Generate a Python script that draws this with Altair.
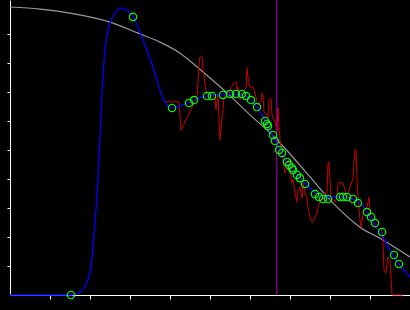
import altair as alt
import pandas as pd

# Gray reference curve
gray_x = [0, 7.5, 15, 25, 32, 37.5, 42.5, 48.25, 54.25, 60, 65, 67.5, 75, 80, 87.5, 93.25, 100]
gray_y = [99.3, 98.6, 97.2, 94.1, 90.3, 87.2, 83.4, 76.9, 69.7, 62.1, 55.9, 52.4, 40.7, 32.8, 23.4, 19.0, 13.1]

# Blue fitted curve
blue_x = [0, 12.5, 15.25, 17.1, 18.3, 19.6, 20.4, 21.1, 21.7, 22.3, 22.9, 23.75, 25, 27.9, 30.75,
          33.25, 35.75, 38.25, 40.5, 44.5, 48.75, 55, 58.25, 61.75, 63.75, 65.75, 67.5, 70, 72.5,
          75, 78.25, 83.25, 87.5, 90, 92.5, 95.75, 97.5, 100]
blue_y = [0, 0, 0, 0.6, 2.3, 5.7, 11.5, 23.0, 33.3, 48.3, 67.2, 84.5, 93.7, 98.9, 95.9,
          87.9, 78.6, 67.8, 64.5, 66.2, 68.6, 69.3, 68.8, 64.8, 60.3, 54.5, 50.0, 44.1, 40.3,
          36.9, 33.8, 33.8, 31.7, 26.9, 21.7, 13.8, 10.3, 6.2]

# Red noisy measurement
red_x = [38.5, 42.25, 42.75, 46.75, 47.25, 47.5, 48, 48.25, 48.75, 49, 49.25, 50.75, 51.25, 51.5,
         51.75, 52, 52.25, 52.5, 52.75, 53, 53.25, 53.5, 54, 54.5, 55, 55.25, 56, 56.5, 56.75, 57,
         57.5, 58, 59, 59.25, 59.5, 60, 60.75, 61.25, 61.75, 62, 62.75, 63, 63.25, 63.5, 64.25,
         64.5, 64.75, 65.25, 65.5, 65.75, 66.25, 66.75, 67, 67.25, 67.5, 67.75, 68, 68.75, 69.25,
         69.5, 70, 70.5, 70.75, 71.25, 71.75, 72, 72.5, 73, 73.25, 73.75, 74.25, 74.5, 75, 75.5,
         75.75, 76.25, 76.75, 77, 77.5, 78, 78.25, 78.75, 79.25, 79.5, 79.75, 80.25, 80.75, 81.25,
         81.75, 82, 82.5, 83.25, 83.75, 84.25, 84.5, 85, 85.75, 86, 86.25, 86.5, 86.75, 87, 87.5,
         87.75, 88, 88.25, 88.75, 89.25, 89.5, 89.75, 90, 90.5, 90.75, 91.25, 92, 93, 93.25, 93.5,
         94, 94.5, 95, 95.25, 95.5, 98.25]
red_y = [66.6, 66.6, 56.9, 68.3, 79.3, 82.1, 82.1, 77.6, 73.1, 69.7, 69.0, 69.0, 67.9, 63.8,
         67.2, 69.7, 60.3, 53.4, 56.9, 61.4, 63.8, 68.3, 69.7, 70.0, 69.7, 71.4, 73.1, 73.4, 70.7, 71.7,
         67.2, 70.0, 71.4, 78.3, 74.8, 71.7, 71.7, 69.7, 66.6, 65.5, 66.6, 69.7, 69.0, 63.1, 62.1,
         61.0, 67.2, 67.9, 62.1, 61.0, 59.7, 56.2, 64.5, 57.9, 54.1, 49.3, 48.3, 42.1, 43.1,
         46.6, 44.1, 38.6, 39.7, 35.2, 32.1, 36.2, 37.2, 33.4, 38.6, 35.2, 33.4, 30.3, 26.9, 25.2,
         25.2, 26.6, 28.3, 30.3, 32.1, 33.4, 32.8, 35.2, 35.2, 45.5, 45.9, 33.8, 32.8, 32.1,
         33.8, 38.6, 39.0, 38.6, 36.2, 33.8, 34.5, 37.2, 40.3, 45.5, 50.0, 50.0, 39.7, 33.8, 25.9,
         23.4, 25.2, 28.3, 29.3, 30.3, 32.1, 33.8, 28.6, 25.9, 25.9, 23.4, 22.4, 22.4, 17.9, 8.6,
         7.6, 13.1, 12.1, 6.2, 0, 0]

# Green sample points
pt_x = [15.25, 30.75, 40.5, 44.75, 46, 49.25, 50.5, 53.25, 55, 56.5, 58, 59, 60.25, 61.75, 63.75,
        64.25, 64.5, 65.75, 66.25, 67.25, 68, 69.25, 69.75, 70.5, 70.75, 71.75, 72.5, 73.75, 76.25,
        77.25, 78.25, 79.5, 82.5, 83.25, 84.25, 85.75, 87, 89.25, 90.25, 91.25, 93, 96, 97.25]
pt_y = [0, 95.9, 64.5, 66.2, 67.2, 68.6, 68.6, 69.0, 69.3, 69.3, 69.3, 68.6, 67.2, 64.8, 60.0,
        59.0, 58.3, 55.2, 53.1, 50.0, 49.0, 45.9, 44.8, 43.8, 43.1, 41.4, 40.3, 38.3, 34.8,
        33.8, 33.1, 33.1, 33.8, 33.8, 33.8, 33.1, 31.7, 28.6, 26.9, 24.8, 21.7, 13.8, 10.7]

marker_x = [66.7]

xs = alt.Scale(domain=[0, 100], nice=False, zero=False)
ys = alt.Scale(domain=[0, 101.72], nice=False, zero=False)
ticks = [10, 20, 30, 40, 50, 60, 70, 80, 90]
xax = alt.Axis(values=ticks, tickCount=20, labels=False, title=None, grid=False, tickSize=4,
               domainColor="white", tickColor="white")
yax = alt.Axis(values=ticks, tickCount=20, labels=False, title=None, grid=False, tickSize=3,
               domainColor="white", tickColor="white")

gray_df = pd.DataFrame({"x": gray_x, "y": gray_y})
blue_df = pd.DataFrame({"x": blue_x, "y": blue_y})
red_df = pd.DataFrame({"x": red_x, "y": red_y})
pt_df = pd.DataFrame({"x": pt_x, "y": pt_y})
mk_df = pd.DataFrame({"x": marker_x})

gray = alt.Chart(gray_df).mark_line(color="#999999", strokeWidth=1.2, interpolate="monotone").encode(
    x=alt.X("x:Q", scale=xs, axis=xax), y=alt.Y("y:Q", scale=ys, axis=yax))
red = alt.Chart(red_df).mark_line(color="#c80000", strokeWidth=1).encode(
    x=alt.X("x:Q", scale=xs), y=alt.Y("y:Q", scale=ys))
purple = alt.Chart(mk_df).mark_rule(color="#990099", strokeWidth=1.2).encode(
    x=alt.X("x:Q", scale=xs))
blue = alt.Chart(blue_df).mark_line(color="#0000ff", strokeWidth=1.3, interpolate="monotone").encode(
    x=alt.X("x:Q", scale=xs), y=alt.Y("y:Q", scale=ys))
pts = alt.Chart(pt_df).mark_point(shape="circle", filled=False, color="#00ff00", size=55,
                                  strokeWidth=1.1, opacity=1).encode(
    x=alt.X("x:Q", scale=xs), y=alt.Y("y:Q", scale=ys))

chart = alt.layer(gray, red, purple, blue, pts).properties(
    width=400, height=295,
    padding={"left": 10, "top": 0, "right": 0, "bottom": 15},
    autosize=alt.AutoSizeParams(type="none"),
    background="black",
).configure_view(stroke=None).configure_axis(domainWidth=1, tickWidth=1, tickRound=True)

chart.save("out.html", embed_options={"renderer": "svg", "actions": False})
